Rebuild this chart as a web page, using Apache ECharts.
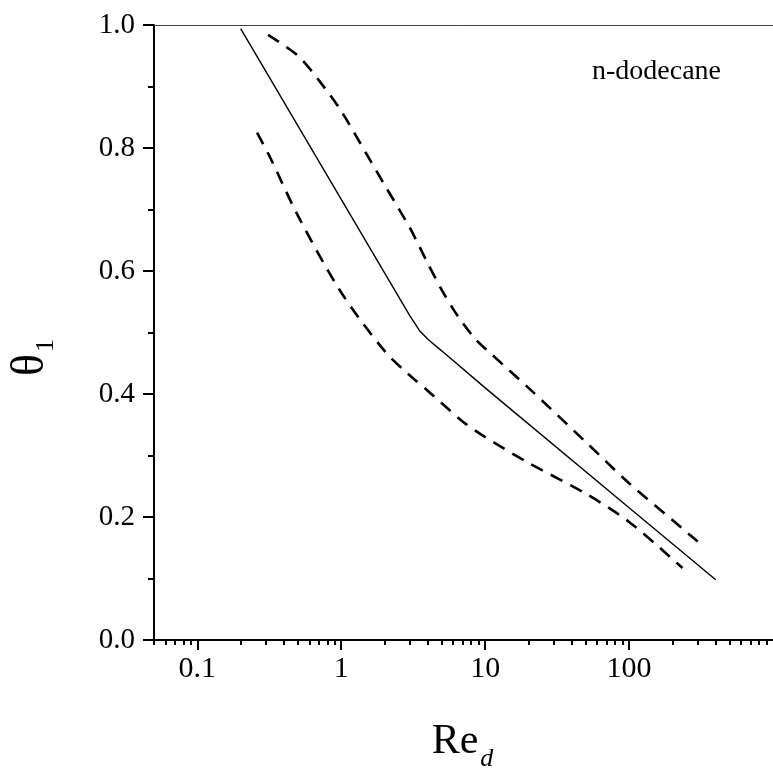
<!DOCTYPE html>
<html>
<head>
  <meta charset="UTF-8">
  <title>theta1 vs Re_d</title>
  <script src="https://cdn.jsdelivr.net/npm/echarts@6/dist/echarts.min.js"></script>
</head>
<body style="margin: 0; background: #fff;">
  <div id="main" style="width: 773px; height: 777px;"></div>
  <script type="text/javascript">
    // solid line (model)
    var solidX = [0.2, 3, 3.5, 4, 4.6, 5.3, 10, 100, 400];
    var solidY = [0.994, 0.527, 0.503, 0.489, 0.477, 0.465, 0.41, 0.215, 0.098];
    // upper dashed bound
    var upperX = [0.31, 0.5, 0.7, 1, 1.5, 2, 3, 4, 5, 6, 7, 8.5, 10, 20, 50, 100, 200, 300];
    var upperY = [0.984, 0.95, 0.91, 0.86, 0.79, 0.74, 0.67, 0.612, 0.569, 0.538, 0.515, 0.49, 0.474, 0.41, 0.322, 0.255, 0.195, 0.16];
    // lower dashed bound
    var lowerX = [0.26, 0.32, 0.5, 1, 2, 3, 4, 5, 7, 10, 20, 50, 100, 235];
    var lowerY = [0.825, 0.785, 0.69, 0.565, 0.47, 0.43, 0.405, 0.385, 0.355, 0.33, 0.288, 0.238, 0.192, 0.117];

    var xMajor = [0.1, 1, 10, 100];
    var xMinor = [0.05, 0.06, 0.07, 0.08, 0.09, 0.2, 0.3, 0.4, 0.5, 0.6, 0.7, 0.8, 0.9,
      2, 3, 4, 5, 6, 7, 8, 9, 20, 30, 40, 50, 60, 70, 80, 90,
      200, 300, 400, 500, 600, 700, 800, 900];

    var font = '"Liberation Serif", "Times New Roman", serif';

    function pairs(xs, ys) {
      return xs.map(function (x, i) { return [x, ys[i]]; });
    }

    var chart = echarts.init(document.getElementById('main'));

    var logAxisBase = {
      type: 'log',
      logBase: 10,
      min: 0.05,
      max: 1000,
      gridIndex: 0,
      splitLine: { show: false }
    };

    chart.setOption({
      animation: false,
      title: {
        text: 'n-dodecane',
        left: 592,
        top: 58,
        padding: 0,
        textStyle: { fontFamily: font, fontSize: 28, fontWeight: 'normal', color: '#000' }
      },
      grid: { left: 152, top: 25, right: -19, bottom: 129, containLabel: false },
      xAxis: [
        Object.assign({}, logAxisBase, {
          position: 'bottom',
          axisLine: { onZero: false, lineStyle: { color: '#000', width: 2 } },
          axisTick: { show: true, customValues: xMajor, length: 10, lineStyle: { color: '#000', width: 2 } },
          axisLabel: {
            customValues: xMajor,
            margin: 14,
            fontFamily: font, fontSize: 30, color: '#000',
            formatter: function (v) { return String(+(+v).toPrecision(3)); }
          },
          name: '{r|Re}{d|d}',
          nameLocation: 'middle',
          nameGap: 72,
          nameTextStyle: {
            rich: {
              r: { fontFamily: font, fontSize: 42, color: '#000' },
              d: { fontFamily: font, fontSize: 26, fontStyle: 'italic', color: '#000', padding: [34, 2, 0, 2] }
            }
          }
        }),
        Object.assign({}, logAxisBase, {
          position: 'bottom',
          axisLine: { show: false },
          axisTick: { show: true, customValues: xMinor, length: 5, lineStyle: { color: '#000', width: 2 } },
          axisLabel: { show: false }
        }),
        Object.assign({}, logAxisBase, {
          position: 'top',
          axisLine: { show: true, lineStyle: { color: '#444', width: 1 } },
          axisTick: { show: false },
          axisLabel: { show: false }
        })
      ],
      yAxis: {
        type: 'value',
        min: 0,
        max: 1,
        interval: 0.2,
        axisLine: { show: true, onZero: false, lineStyle: { color: '#000', width: 2 } },
        axisTick: { show: true, length: 11, lineStyle: { color: '#000', width: 2 } },
        minorTick: { show: true, splitNumber: 2, length: 6, lineStyle: { color: '#000', width: 2 } },
        splitLine: { show: false },
        axisLabel: {
          margin: 19,
          fontFamily: font, fontSize: 29, color: '#000',
          formatter: function (v) { return v.toFixed(1); }
        },
        name: '{t|θ}{s|1}',
        nameLocation: 'middle',
        nameRotate: 90,
        nameGap: 95,
        nameTextStyle: {
          rich: {
            t: { fontFamily: font, fontSize: 46, color: '#000' },
            s: { fontFamily: font, fontSize: 26, color: '#000', padding: [30, 50, 0, 2] }
          }
        }
      },
      series: [
        {
          type: 'line',
          data: pairs(solidX, solidY),
          smooth: false,
          symbol: 'none',
          lineStyle: { color: '#000', width: 1.4 }
        },
        {
          type: 'line',
          data: pairs(upperX, upperY),
          smooth: 0.3,
          symbol: 'none',
          lineStyle: { color: '#000', width: 2.6, type: [13, 9] }
        },
        {
          type: 'line',
          data: pairs(lowerX, lowerY),
          smooth: 0.3,
          symbol: 'none',
          lineStyle: { color: '#000', width: 2.6, type: [13, 9] }
        }
      ]
    });
  </script>
</body>
</html>
